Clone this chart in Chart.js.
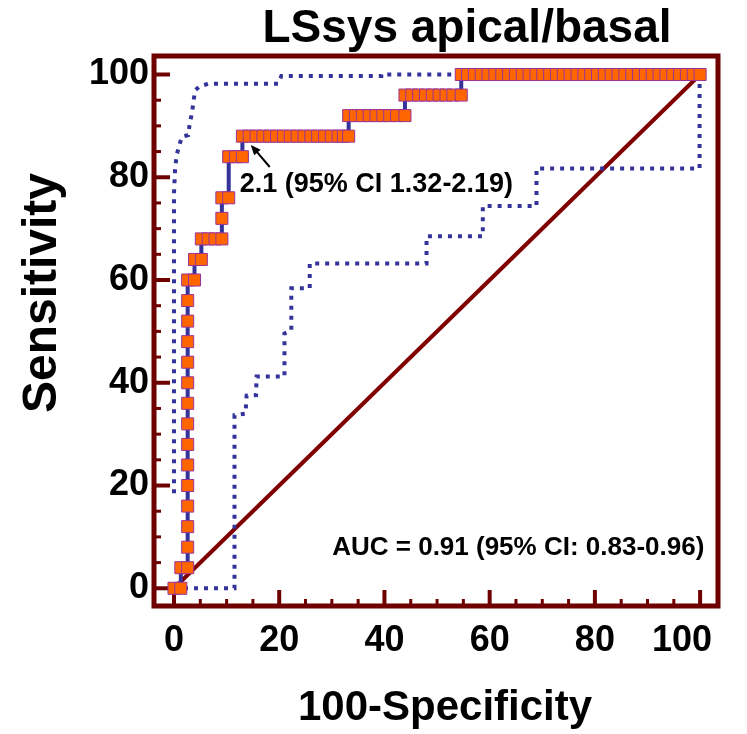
<!DOCTYPE html>
<html>
<head>
<meta charset="utf-8">
<script src="https://cdn.jsdelivr.net/npm/chart.js@4.4.0/dist/chart.umd.min.js"></script>
<style>
  body { margin: 0; background: #fff; }
</style>
</head>
<body>
<canvas id="roc" width="747" height="734"></canvas>
<script>
// ROC curve: 100-specificity (x) and sensitivity (y), one entry per criterion marker
const rocFpr = [
  0, 1.3,
  1.3, 2.6,
  2.6, 2.6, 2.6, 2.6, 2.6, 2.6, 2.6, 2.6, 2.6, 2.6, 2.6, 2.6, 2.6,
  2.6, 3.9,
  3.9, 5.2,
  5.2, 6.5, 7.8, 9.1,
  9.1,
  9.1, 10.4,
  10.4, 11.7, 13.0,
  13.0, 14.3, 15.6, 16.9, 18.2, 19.5, 20.8, 22.1, 23.4, 24.7, 26.0, 27.3, 28.6, 29.9, 31.2, 32.2, 33.2,
  33.2, 34.5, 35.8, 37.1, 38.4, 39.7, 41.0, 42.3, 43.9,
  43.9, 45.2, 46.5, 47.8, 49.1, 50.4, 51.7, 53.0, 54.6,
  54.6, 55.8, 57.1, 58.4, 59.7, 61.0, 62.3, 63.6, 64.9, 66.2, 67.5, 68.8, 70.1, 71.4, 72.7, 74.0, 75.3, 76.6,
  77.9, 79.2, 80.5, 81.8, 83.1, 84.4, 85.7, 87.0, 88.3, 89.6, 90.9, 92.2, 93.5, 94.8, 96.1, 97.4, 98.7, 100
];
const rocSens = [
  0, 0,
  4, 4,
  8, 12, 16, 20, 24, 28, 32, 36, 40, 44, 48, 52, 56,
  60, 60,
  64, 64,
  68, 68, 68, 68,
  72,
  76, 76,
  84, 84, 84,
  88, 88, 88, 88, 88, 88, 88, 88, 88, 88, 88, 88, 88, 88, 88, 88, 88,
  92, 92, 92, 92, 92, 92, 92, 92, 92,
  96, 96, 96, 96, 96, 96, 96, 96, 96,
  100, 100, 100, 100, 100, 100, 100, 100, 100, 100, 100, 100, 100, 100, 100, 100, 100, 100,
  100, 100, 100, 100, 100, 100, 100, 100, 100, 100, 100, 100, 100, 100, 100, 100, 100, 100
];

// 95% confidence bounds
const upperFpr = [0, 0, 0.2, 0.5, 1.0, 1.5, 2.7, 3.0, 3.4, 3.7, 4.0, 4.9, 6.5, 19.8, 20.4, 39.4, 39.4, 100];
const upperSens = [18.5, 76.8, 81.4, 84.3, 86.2, 87.9, 88.2, 90.5, 92.4, 94.7, 96.9, 97.7, 98.2, 98.2, 99.7, 99.7, 100, 100];
const lowerFpr = [0, 11.5, 11.5, 13.6, 13.8, 15.6, 15.7, 21.0, 21.0, 22.3, 22.3, 25.8, 25.8, 48.0, 48.0, 58.7, 58.7, 68.9, 68.9, 99.9, 99.9];
const lowerSens = [0, 0, 33.7, 34.0, 37.5, 37.6, 41.2, 41.2, 49.6, 50.2, 58.4, 58.4, 63.2, 63.2, 68.5, 68.5, 74.4, 74.4, 81.7, 81.7, 98.2];

// reference line
const diagFpr = [0, 100];
const diagSens = [0, 100];

const xTickValues = [0, 20, 40, 60, 80, 100];
const yTickValues = [0, 20, 40, 60, 80, 100];
const minorTickValues = [0, 5, 10, 15, 20, 25, 30, 35, 40, 45, 50, 55, 60, 65, 70, 75, 80, 85, 90, 95, 100];

const titleText = 'LSsys apical/basal';
const xTitle = '100-Specificity';
const yTitle = 'Sensitivity';
const cutoffText = '2.1 (95% CI 1.32-2.19)';
const aucText = 'AUC = 0.91 (95% CI: 0.83-0.96)';

const FONT = '"Liberation Sans", Arial, sans-serif';
const FRAME = '#6e0000';
const BLUE = '#333399';

const toPoints = (xs, ys) => xs.map((x, i) => ({ x, y: ys[i] }));

const framePlugin = {
  id: 'frame',
  beforeDatasetsDraw(chart) {
    const { ctx, chartArea: a, scales: { x, y } } = chart;
    ctx.save();
    ctx.strokeStyle = FRAME;
    ctx.lineWidth = 5;
    ctx.strokeRect(a.left, a.top, a.right - a.left, a.bottom - a.top);
    minorTickValues.forEach((v) => {
      const major = v % 20 === 0;
      const len = major ? 16 : 7;
      ctx.lineWidth = major ? 4 : 3;
      const py = y.getPixelForValue(v);
      ctx.beginPath();
      ctx.moveTo(a.left, py);
      ctx.lineTo(a.left + len, py);
      ctx.stroke();
      const px = x.getPixelForValue(v);
      ctx.beginPath();
      ctx.moveTo(px, a.bottom);
      ctx.lineTo(px, a.bottom - len);
      ctx.stroke();
    });
    ctx.restore();
  },
  afterDraw(chart) {
    const { ctx, chartArea: a, scales: { x, y } } = chart;
    ctx.save();
    ctx.fillStyle = '#000';

    // x tick labels (the last one kept inside the picture, as in the original)
    ctx.font = 'bold 36px ' + FONT;
    ctx.textBaseline = 'middle';
    ctx.textAlign = 'center';
    xTickValues.forEach((v) => {
      const label = String(v);
      const w = ctx.measureText(label).width;
      const cx = Math.min(x.getPixelForValue(v), 712 - w / 2);
      ctx.fillText(label, cx, a.bottom + 35);
    });

    ctx.textBaseline = 'alphabetic';
    ctx.font = 'bold 46px ' + FONT;
    ctx.fillText(titleText, 467, 42);
    ctx.font = 'bold 42px ' + FONT;
    ctx.fillText(xTitle, 445, 720);
    ctx.save();
    ctx.translate(56, 293);
    ctx.rotate(-Math.PI / 2);
    ctx.font = 'bold 48px ' + FONT;
    ctx.fillText(yTitle, 0, 0);
    ctx.restore();

    ctx.textBaseline = 'middle';
    ctx.textAlign = 'left';
    ctx.font = 'bold 27px ' + FONT;
    ctx.fillText(cutoffText, x.getPixelForValue(12.5), y.getPixelForValue(78.5));
    ctx.textAlign = 'right';
    ctx.font = 'bold 26px ' + FONT;
    ctx.fillText(aucText, x.getPixelForValue(100.8), y.getPixelForValue(7.8));

    // arrow to the cut-off point
    const tx = x.getPixelForValue(14.6), ty = y.getPixelForValue(86.3);
    const sx = x.getPixelForValue(18.2), sy = y.getPixelForValue(82.0);
    const ang = Math.atan2(ty - sy, tx - sx);
    ctx.strokeStyle = '#000';
    ctx.lineWidth = 2;
    ctx.beginPath();
    ctx.moveTo(sx, sy);
    ctx.lineTo(tx - 6 * Math.cos(ang), ty - 6 * Math.sin(ang));
    ctx.stroke();
    ctx.beginPath();
    ctx.moveTo(tx, ty);
    ctx.lineTo(tx - 11 * Math.cos(ang - 0.4), ty - 11 * Math.sin(ang - 0.4));
    ctx.lineTo(tx - 11 * Math.cos(ang + 0.4), ty - 11 * Math.sin(ang + 0.4));
    ctx.closePath();
    ctx.fill();
    ctx.restore();
  }
};

new Chart(document.getElementById('roc'), {
  type: 'scatter',
  data: {
    datasets: [
      {
        data: toPoints(rocFpr, rocSens),
        showLine: true,
        borderColor: BLUE,
        borderWidth: 4,
        pointStyle: 'rect',
        pointRadius: 8.5,
        pointBackgroundColor: '#ff6600',
        pointBorderColor: '#993399',
        pointBorderWidth: 1,
        order: 0
      },
      {
        data: toPoints(upperFpr, upperSens),
        showLine: true,
        borderColor: BLUE,
        borderWidth: 4,
        borderDash: [4, 6],
        pointRadius: 0,
        order: 1
      },
      {
        data: toPoints(lowerFpr, lowerSens),
        showLine: true,
        borderColor: BLUE,
        borderWidth: 4,
        borderDash: [4, 6],
        pointRadius: 0,
        order: 1
      },
      {
        data: toPoints(diagFpr, diagSens),
        showLine: true,
        borderColor: '#800000',
        borderWidth: 4,
        pointRadius: 0,
        order: 2
      }
    ]
  },
  options: {
    responsive: false,
    animation: false,
    layout: { padding: { top: 56, right: 29, left: 0, bottom: 0 } },
    plugins: { legend: { display: false }, tooltip: { enabled: false } },
    scales: {
      x: {
        type: 'linear',
        min: -3.8,
        max: 103.4,
        afterFit: (axis) => { axis.height = 128; },
        afterBuildTicks: (axis) => { axis.ticks = xTickValues.map((v) => ({ value: v })); },
        grid: { display: false, drawTicks: false },
        border: { display: false },
        ticks: { display: false }
      },
      y: {
        type: 'linear',
        min: -3.45,
        max: 103.6,
        afterFit: (axis) => { axis.width = 154; },
        afterBuildTicks: (axis) => { axis.ticks = yTickValues.map((v) => ({ value: v })); },
        grid: { display: false, drawTicks: false },
        border: { display: false },
        ticks: { color: '#000', padding: 5, autoSkip: false, font: { family: FONT, size: 36, weight: 'bold' } }
      }
    }
  },
  plugins: [framePlugin]
});
</script>
</body>
</html>
